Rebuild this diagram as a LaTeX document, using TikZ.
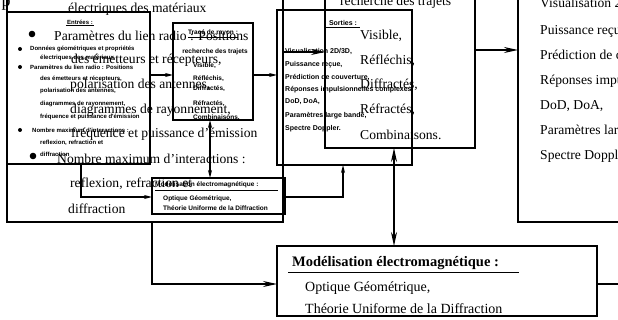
\documentclass[tikz,border=0pt]{standalone}
\usepackage{fontspec}
\setmainfont{Liberation Serif}
\newfontfamily\smallsf{Liberation Sans}
\usetikzlibrary{arrows.meta}
\begin{document}
\begin{tikzpicture}[x=1pt,y=-1pt,
  boxst/.style={draw, line width=2.4pt, inner sep=0pt, outer sep=0pt, rectangle},
  conn/.style={line width=1.3pt},
  bigarr/.style={conn, -{Stealth[length=14pt,width=6pt]}},
  bigdarr/.style={conn, {Stealth[length=14pt,width=6pt]}-{Stealth[length=14pt,width=6pt]}},
  smarr/.style={line width=1.4pt, -{Stealth[length=8pt,width=4pt]}},
  smdarr/.style={line width=1.4pt, {Stealth[length=8pt,width=4pt]}-{Stealth[length=8pt,width=4pt]}},
  st/.style={font=\smallsf\bfseries\fontsize{6}{7}\selectfont, inner sep=0pt, anchor=west},
  stm/.style={font=\smallsf\bfseries\fontsize{6.5}{7.5}\selectfont, inner sep=0pt, anchor=west},
  stl/.style={font=\smallsf\bfseries\fontsize{7}{8}\selectfont, inner sep=0pt, anchor=west},
  bt/.style={font=\fontsize{13.6}{16}\selectfont, inner sep=0pt, anchor=west},
  btb/.style={font=\bfseries\fontsize{14.5}{17}\selectfont, inner sep=0pt, anchor=west},
  emt/.style={font=\fontsize{14}{16}\selectfont, inner sep=0pt, anchor=west},
  ulin/.style={line width=0.6pt},
  sbul/.style={fill=black},
]
\fill[white] (0,0) rectangle (618,320);
\useasboundingbox (0,0) rectangle (618,320);
\clip (0,0) rectangle (618,320);

% ---------- large version (boxes) ----------
\node[boxst, minimum width=276pt, minimum height=252pt] (bIn) at (145,96) {};
\node[boxst, minimum width=150pt, minimum height=158pt] (bTr) at (400,69) {};
\node[boxst, minimum width=122pt, minimum height=232pt] (bSo) at (579,106) {};
\node[boxst, minimum width=320pt, minimum height=70pt] (bEm) at (437,281) {};
\coordinate (offR) at (640,284);

% ---------- small version (boxes) ----------
\node[boxst, minimum width=143pt, minimum height=152pt] (sIn) at (78.5,88) {};
\node[boxst, minimum width=80pt, minimum height=97pt] (sTr) at (213,71.5) {};
\node[boxst, minimum width=135pt, minimum height=155pt] (sSo) at (344.5,87.5) {};
\node[boxst, minimum width=133pt, minimum height=36pt] (sEm) at (218.5,196) {};

% ---------- large texts ----------
\node[font=\fontsize{18}{20}\selectfont, inner sep=0pt, anchor=base west] (p0) at (1.5,7) {p};
\node[bt] (b1) at (68,9.5) {électriques des matériaux};
\fill[sbul] (32,34) circle (3.3pt);
\node[bt] (b2) at (54,35.7) {Paramètres du lien radio : Positions};
\node[bt] (b3) at (71,60.4) {des émetteurs et récepteurs,};
\node[bt] (b4) at (70,85.1) {polarisation des antennes,};
\node[bt] (b5) at (70,109.8) {diagrammes de rayonnement,};
\node[bt] (b6) at (71,134.5) {fréquence et puissance d'émission};
\fill[sbul] (33,156) circle (3.3pt);
\node[bt] (b7) at (57,159.2) {Nombre maximum d'interactions :};
\node[bt] (b8) at (70,183.9) {reflexion, refraction et};
\node[bt] (b9) at (68,208.6) {diffraction};

\node[bt] (r0) at (340,2.5) {recherche des trajets};
\node[bt] (r1) at (360,36) {Visible,};
\node[bt] (r2) at (360,60.6) {Réfléchis,};
\node[bt] (r3) at (360,85.2) {Diffractés,};
\node[bt] (r4) at (360,109.8) {Réfractés,};
\node[bt] (r5) at (360,134.4) {Combinaisons.};

\node[bt] (o1) at (540,4) {Visualisation 2D/3D,};
\node[bt] (o2) at (540,31) {Puissance reçue,};
\node[bt] (o3) at (540,56) {Prédiction de couverture,};
\node[bt] (o4) at (540,81) {Réponses impulsionnelles complexes,};
\node[bt] (o5) at (540,106) {DoD, DoA,};
\node[bt] (o6) at (540,131) {Paramètres large bande,};
\node[bt] (o7) at (540,156) {Spectre Doppler.};

\node[btb] (e0) at (292,263) {Modélisation électromagnétique :};
\draw[line width=0.8pt] (288,272) -- ([xshift=20pt]e0.east |- 0,272);
\node[emt] (e1) at (305,288) {Optique Géométrique,};
\node[emt] (e2) at (305,308.5) {Théorie Uniforme de la Diffraction};

% ---------- small texts ----------
\node[st, anchor=center] (s0) at (80,22) {Entrées :};
\draw[ulin] ([xshift=-1pt,yshift=-1.2pt]s0.south west) -- ([xshift=1pt,yshift=-1.2pt]s0.south east);
\fill[sbul] (20,49) circle (2pt);
\node[st] (s1) at (30,49) {Données géométriques et propriétés};
\node[st] (s2) at (40,58) {électriques des matériaux};
\fill[sbul] (20,67) circle (2pt);
\node[st] (s3) at (30,67) {Paramètres du lien radio : Positions};
\node[st] (s4) at (40,79) {des émetteurs et récepteurs,};
\node[st] (s5) at (40,91) {polarisation des antennes,};
\node[st] (s6) at (40,104) {diagrammes de rayonnement,};
\node[st] (s7) at (40,117) {fréquence et puissance d'émission};
\fill[sbul] (20,130) circle (2pt);
\node[st] (s8) at (32,130) {Nombre maximum d'interactions :};
\node[st] (s9) at (40,143) {reflexion, refraction et};
\node[st] (s10) at (40,154) {diffraction};

\node[stm, anchor=center] (u0) at (213,33) {Tracé de rayon :};
\draw[ulin] ([yshift=-1.2pt]u0.south west) -- ([yshift=-1.2pt]u0.south east);
\node[stm, anchor=center] (u1) at (215,52) {recherche des trajets};
\node[stm] (u2) at (193,66) {Visible,};
\node[stm] (u3) at (193,79) {Réfléchis,};
\node[stm] (u4) at (193,88.5) {Diffractés,};
\node[stm] (u5) at (193,104) {Réfractés,};
\node[stm] (u6) at (193,117) {Combinaisons.};

\node[stl, anchor=center] (v0) at (343,23) {Sorties :};
\draw[ulin] (325,27.5) -- ([xshift=3pt]v0.east |- 0,27.5);
\node[stl] (v1) at (285,52) {Visualisation 2D/3D,};
\node[stl] (v2) at (285,65) {Puissance reçue,};
\node[stl] (v3) at (285,77) {Prédiction de couverture,};
\node[stl] (v4) at (285,90) {Réponses impulsionnelles complexes,};
\node[stl] (v5) at (285,102) {DoD, DoA,};
\node[stl] (v6) at (285,116) {Paramètres large bande,};
\node[stl] (v7) at (285,129) {Spectre Doppler.};

\node[stm] (w0) at (155,185) {Modélisation électromagnétique :};
\draw[line width=0.6pt] (155,190.5) -- (278,190.5);
\node[stm] (w1) at (163,198.5) {Optique Géométrique,};
\node[stm] (w2) at (163,208) {Théorie Uniforme de la Diffraction};

% ---------- large connectors ----------
\draw[bigarr] (bIn.east |- 0,52) -- (bTr.west |- 0,52);
\draw[bigarr] (bTr.east |- 0,50) -- (bSo.west |- 0,50);
\draw[bigarr] (bIn.south -| 152,0) |- (bEm.west |- 0,284);
\draw[bigdarr] (bTr.south -| 394,0) -- (bEm.north -| 394,0);
\draw[conn] (bEm.east |- 0,284) -- (offR);

% ---------- small connectors ----------
\draw[smarr] (sIn.east |- 0,75) -- (sTr.west |- 0,75);
\draw[smarr] (sTr.east |- 0,75) -- (sSo.west |- 0,75);
\draw[smarr] (sIn.south -| 81,0) |- (sEm.west |- 0,197);
\draw[smdarr] (sTr.south -| 210,0) -- (sEm.north -| 210,0);
\draw[smarr] (sEm.east |- 0,197) -| (sSo.south -| 343,0);
\end{tikzpicture}
\end{document}
